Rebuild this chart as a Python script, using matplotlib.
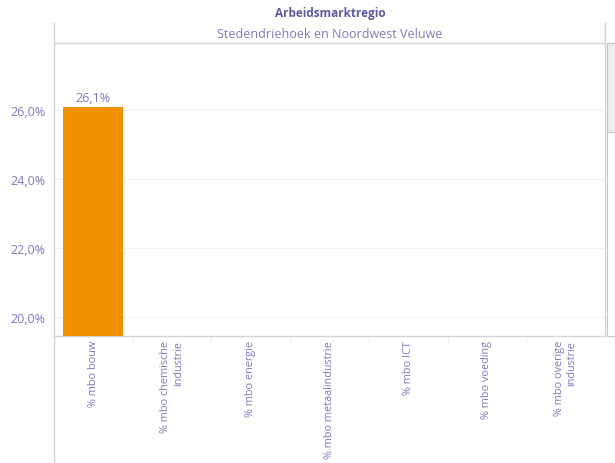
import matplotlib.pyplot as plt
from matplotlib.lines import Line2D
from matplotlib.patches import Rectangle
from matplotlib.ticker import FuncFormatter

categories = ['% mbo bouw', '% mbo chemische\nindustrie', '% mbo energie', '% mbo metaalindustrie',
              '% mbo ICT', '% mbo voeding', '% mbo overige\nindustrie']
values = [26.1, None, None, None, None, None, None]
yticks = [20, 22, 24, 26]

title = 'Arbeidsmarktregio'
subtitle = 'Stedendriehoek en Noordwest Veluwe'

W, H = 615, 464
purple_dark = '#5e58a0'
purple = '#7f79bb'
orange = '#f29100'
line_grey = '#d4d4d4'

plt.rcParams['font.family'] = ['Open Sans', 'DejaVu Sans']

fig = plt.figure(figsize=(W / 100, H / 100), dpi=100)
ax = fig.add_axes([54 / W, (H - 337) / H, (605 - 54) / W, (337 - 44) / H])

x = list(range(len(categories)))
for i, v in zip(x, values):
    if v is None:
        continue
    ax.bar(i, v, width=0.76, color=orange, zorder=3)
    ax.text(i, v + 0.08, f'{v:.1f}'.replace('.', ',') + '%', ha='center', va='bottom',
            fontsize=9, color=purple)

ax.set_xlim(-0.5, len(categories) - 0.5)
ax.set_ylim(19.45, 27.94)
ax.set_yticks(yticks)
ax.yaxis.set_major_formatter(FuncFormatter(lambda v, p: f'{v:.1f}'.replace('.', ',') + '%'))
ax.tick_params(axis='y', length=0, labelsize=9, labelcolor=purple, pad=6)
ax.grid(axis='y', color='#f0f0f0', linewidth=0.8, zorder=0)

ax.set_xticks(x)
ax.set_xticklabels(categories, rotation=90, fontsize=7.8, color=purple, ha='center', va='top',
                   multialignment='right')
ax.set_xticks([i + 0.5 for i in x[:-1]], minor=True)
ax.tick_params(axis='x', which='major', length=0, pad=3)
ax.tick_params(axis='x', which='minor', length=5, color='#eeeeee', width=0.8)

for side in ['left', 'right']:
    ax.spines[side].set_visible(False)
ax.spines['top'].set_color(line_grey)
ax.spines['bottom'].set_color(line_grey)
ax.spines['top'].set_linewidth(1)
ax.spines['bottom'].set_linewidth(1)

# frame lines around the pane
fig.add_artist(Line2D([54 / W, 54 / W], [0, (H - 24) / H], color=line_grey, linewidth=1))
fig.add_artist(Line2D([605 / W, 605 / W], [(H - 337) / H, (H - 24) / H], color=line_grey, linewidth=1))

# scrollbar
fig.add_artist(Rectangle((607 / W, (H - 337) / H), 8 / W, 293 / H, transform=fig.transFigure,
                         facecolor='white', edgecolor='#c8c8c8', linewidth=0.8))
fig.add_artist(Rectangle((607 / W, (H - 133) / H), 8 / W, 89 / H, transform=fig.transFigure,
                         facecolor='#ededed', edgecolor='#c8c8c8', linewidth=0.8))

fig.text(330 / W, 1 - 14 / H, title, ha='center', va='center', fontsize=8.5, fontweight='bold',
         color=purple_dark)
fig.text(330 / W, 1 - 34 / H, subtitle, ha='center', va='center', fontsize=9, color=purple)

plt.savefig('out.png', dpi=100)
